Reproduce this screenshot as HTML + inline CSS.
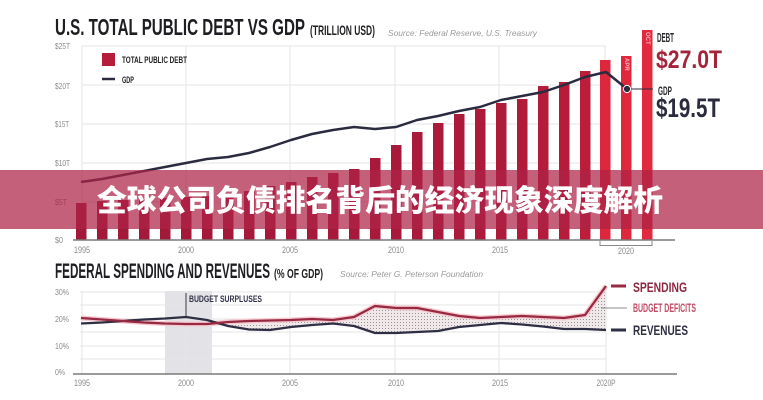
<!DOCTYPE html>
<html><head><meta charset="utf-8"><style>
html,body{margin:0;padding:0;background:#fff;}
svg{display:block;}
.c{font-family:"Liberation Sans Narrow","Liberation Sans",sans-serif;font-weight:bold;}
.t{font-family:"Liberation Sans Narrow","Liberation Sans",sans-serif;fill:#8a8a8a;}
.s{font-family:"Liberation Sans",sans-serif;font-style:italic;fill:#9a9a9a;}
</style></head><body>
<svg width="763" height="400" viewBox="0 0 763 400" xmlns="http://www.w3.org/2000/svg">
<defs>
<pattern id="dots" width="3" height="3" patternUnits="userSpaceOnUse">
<rect width="3" height="3" fill="#efe9ea"/>
<rect x="1" y="1" width="1" height="1" fill="#9a9095"/>
</pattern>
</defs>
<rect width="763" height="400" fill="#fff"/>

<!-- TOP TITLE -->
<text class="c" x="55" y="35" font-size="23.5" fill="#1e1e22" textLength="250" lengthAdjust="spacingAndGlyphs">U.S. TOTAL PUBLIC DEBT VS GDP</text>
<text class="c" x="310" y="35" font-size="13.5" fill="#1e1e22" textLength="65" lengthAdjust="spacingAndGlyphs">(TRILLION USD)</text>
<text class="s" x="388" y="36" font-size="8.5" textLength="149" lengthAdjust="spacingAndGlyphs">Source: Federal Reserve, U.S. Treasury</text>

<!-- top grid -->
<g stroke="#e6e6e6" stroke-width="1">
<line x1="82" y1="46" x2="606" y2="46"/>
<line x1="82" y1="85" x2="606" y2="85"/>
<line x1="82" y1="124" x2="606" y2="124"/>
<line x1="82" y1="163" x2="606" y2="163"/>
<line x1="82" y1="202" x2="606" y2="202"/>
<line x1="82" y1="46" x2="82" y2="240"/>
<line x1="186" y1="46" x2="186" y2="240"/>
<line x1="290" y1="46" x2="290" y2="240"/>
<line x1="395" y1="46" x2="395" y2="240"/>
<line x1="499" y1="46" x2="499" y2="240"/>
<line x1="605" y1="46" x2="605" y2="240"/>
</g>
<g class="t" font-size="8.5">
<text x="55" y="49" textLength="15" lengthAdjust="spacingAndGlyphs">$25T</text>
<text x="55" y="89" textLength="15" lengthAdjust="spacingAndGlyphs">$20T</text>
<text x="55" y="127" textLength="14" lengthAdjust="spacingAndGlyphs">$15T</text>
<text x="55" y="166" textLength="15" lengthAdjust="spacingAndGlyphs">$10T</text>
<text x="55" y="205" textLength="12" lengthAdjust="spacingAndGlyphs">$5T</text>
<text x="55" y="243" textLength="8" lengthAdjust="spacingAndGlyphs">$0</text>
</g>

<!-- legend -->
<rect x="102" y="53" width="13" height="13" fill="#b51d3b"/>
<text class="c" x="122" y="63" font-size="9.5" fill="#222" textLength="65" lengthAdjust="spacingAndGlyphs">TOTAL PUBLIC DEBT</text>
<line x1="102" y1="79" x2="115" y2="79" stroke="#2b2b40" stroke-width="2.5"/>
<text class="c" x="122" y="83" font-size="9.5" fill="#222" textLength="12" lengthAdjust="spacingAndGlyphs">GDP</text>

<!-- bars -->
<g>
<rect x="76" y="203" width="10.5" height="37" fill="#a3193a"/>
<rect x="97" y="201" width="10.5" height="39" fill="#a3193a"/>
<rect x="118" y="200" width="10.5" height="40" fill="#a3193a"/>
<rect x="139" y="199" width="10.5" height="41" fill="#a3193a"/>
<rect x="160" y="198" width="10.5" height="42" fill="#a3193a"/>
<rect x="181" y="197" width="10.5" height="43" fill="#a4193a"/>
<rect x="202" y="196" width="10.5" height="44" fill="#a4193a"/>
<rect x="223" y="194" width="10.5" height="46" fill="#a4193a"/>
<rect x="244" y="191" width="10.5" height="49" fill="#a5193a"/>
<rect x="265" y="186" width="10.5" height="54" fill="#a5193a"/>
<rect x="286" y="182" width="10.5" height="58" fill="#a6193a"/>
<rect x="307" y="177" width="10.5" height="63" fill="#a6193a"/>
<rect x="328" y="173" width="10.5" height="67" fill="#a7193a"/>
<rect x="349" y="169" width="10.5" height="71" fill="#a7193a"/>
<rect x="370" y="158" width="10.5" height="82" fill="#a8193a"/>
<rect x="391" y="145" width="10.5" height="95" fill="#a9193a"/>
<rect x="412" y="132" width="10.5" height="108" fill="#aa1a3a"/>
<rect x="433" y="123" width="10.5" height="117" fill="#ab1a3a"/>
<rect x="454" y="114" width="10.5" height="126" fill="#ac1a3a"/>
<rect x="475" y="109" width="10.5" height="131" fill="#ad1a3a"/>
<rect x="496" y="103" width="10.5" height="137" fill="#ae1b3a"/>
<rect x="517" y="99" width="10.5" height="141" fill="#b01b3a"/>
<rect x="538" y="86" width="10.5" height="154" fill="#b31c3a"/>
<rect x="559" y="82" width="10.5" height="158" fill="#b61c3a"/>
<rect x="580" y="71" width="10.5" height="169" fill="#bb1d3a"/>
<rect x="600" y="60" width="10.5" height="180" fill="#de263c"/>
<rect x="621" y="56" width="10.5" height="184" fill="#e0283d"/>
<rect x="642" y="30" width="10.5" height="210" fill="#e2293d"/>
</g>
<text x="0" y="0" font-family="Liberation Sans Narrow,Liberation Sans,sans-serif" font-weight="bold" font-size="6" fill="#f6b4bc" transform="translate(625,58) rotate(90)">APR</text>
<text x="0" y="0" font-family="Liberation Sans Narrow,Liberation Sans,sans-serif" font-weight="bold" font-size="6" fill="#f6b4bc" transform="translate(646,32) rotate(90)">OCT</text>

<!-- GDP line -->
<polyline fill="none" stroke="#2b2b40" stroke-width="2.5" stroke-linejoin="round" points="81,182 102,179 123,175 144,171 165,167 186,163 207,159 228,157 249,153 270,147 291,140 312,134 333,130 354,127 375,129 396,127 417,120 438,116 459,111 480,107 501,100 522,96 543,92 564,85 585,77 606,72 627,89"/>
<line x1="627" y1="89" x2="653" y2="89" stroke="#2b2b40" stroke-width="1"/>
<circle cx="627" cy="89" r="3.6" fill="#2b2b40" stroke="#fff" stroke-width="1"/>

<!-- x axis top -->
<line x1="73" y1="240" x2="675" y2="240" stroke="#7a7a7a" stroke-width="1.5"/>
<path d="M600,241 V245.5 H652 V241" fill="none" stroke="#888" stroke-width="1"/>
<g class="t" font-size="9" text-anchor="middle">
<text x="82" y="253" textLength="16" lengthAdjust="spacingAndGlyphs">1995</text>
<text x="186" y="253" textLength="16" lengthAdjust="spacingAndGlyphs">2000</text>
<text x="290" y="253" textLength="16" lengthAdjust="spacingAndGlyphs">2005</text>
<text x="396" y="253" textLength="16" lengthAdjust="spacingAndGlyphs">2010</text>
<text x="500" y="253" textLength="16" lengthAdjust="spacingAndGlyphs">2015</text>
<text x="626" y="254" textLength="16" lengthAdjust="spacingAndGlyphs">2020</text>
</g>

<!-- right annotations top -->
<text class="c" x="657" y="42" font-size="13" fill="#2a2a2e" textLength="17" lengthAdjust="spacingAndGlyphs">DEBT</text>
<text class="c" x="656" y="68" font-size="25" fill="#a3233b" textLength="66" lengthAdjust="spacingAndGlyphs">$27.0T</text>
<text class="c" x="658" y="95" font-size="12" fill="#2a2a2e" textLength="14" lengthAdjust="spacingAndGlyphs">GDP</text>
<text class="c" x="656" y="117" font-size="27" fill="#2b2b40" textLength="64" lengthAdjust="spacingAndGlyphs">$19.5T</text>

<!-- BOTTOM CHART -->
<text class="c" x="55" y="278" font-size="21" fill="#1e1e22" textLength="215" lengthAdjust="spacingAndGlyphs">FEDERAL SPENDING AND REVENUES</text>
<text class="c" x="274" y="278" font-size="13" fill="#1e1e22" textLength="49" lengthAdjust="spacingAndGlyphs">(% OF GDP)</text>
<text class="s" x="340" y="277" font-size="8.5" textLength="143" lengthAdjust="spacingAndGlyphs">Source: Peter G. Peterson Foundation</text>

<rect x="165" y="291" width="47" height="83" fill="#e3e3e7"/>
<g stroke="#e6e6e6" stroke-width="1">
<line x1="80" y1="292" x2="606" y2="292"/>
<line x1="80" y1="305" x2="606" y2="305"/>
<line x1="80" y1="319" x2="606" y2="319"/>
<line x1="80" y1="332" x2="606" y2="332"/>
<line x1="80" y1="346" x2="606" y2="346"/>
<line x1="80" y1="359" x2="606" y2="359"/>
<line x1="82" y1="291" x2="82" y2="374"/>
<line x1="186" y1="291" x2="186" y2="374"/>
<line x1="290" y1="291" x2="290" y2="374"/>
<line x1="395" y1="291" x2="395" y2="374"/>
<line x1="499" y1="291" x2="499" y2="374"/>
<line x1="606" y1="291" x2="606" y2="374"/>
</g>
<g class="t" font-size="8.5">
<text x="55" y="295" textLength="14" lengthAdjust="spacingAndGlyphs">30%</text>
<text x="55" y="322" textLength="14" lengthAdjust="spacingAndGlyphs">20%</text>
<text x="55" y="349" textLength="14" lengthAdjust="spacingAndGlyphs">10%</text>
<text x="55" y="375" textLength="10" lengthAdjust="spacingAndGlyphs">0%</text>
</g>

<line x1="186" y1="293" x2="186" y2="318" stroke="#3a3a4a" stroke-width="1"/>
<text class="c" x="189" y="302" font-size="9.5" fill="#33334a" textLength="73" lengthAdjust="spacingAndGlyphs">BUDGET SURPLUSES</text>

<!-- deficit area -->
<polygon fill="url(#dots)" points="212,323 228,322 249,321 270,320.5 291,320 312,319 333,320 354,317 375,306 396,308 417,308 438,312 459,316 480,318 501,317 522,316 543,317 564,318 585,315 606,286 606,330 585,329 564,329 543,326.5 522,324.5 501,323 480,325 459,327 438,331 417,332 396,333 375,333 354,326 333,323.5 312,325 291,327 270,330 249,329.5 228,326"/>

<!-- spending glow + line -->
<polyline fill="none" stroke="#f5c9d0" stroke-width="5" stroke-linejoin="round" points="81,318 102,319.5 123,321 144,322.5 165,323.5 186,324 207,324 228,322 249,321 270,320.5 291,320 312,319 333,320 354,317 375,306 396,308 417,308 438,312 459,316 480,318 501,317 522,316 543,317 564,318 585,315 606,286"/>
<polyline fill="none" stroke="#2e2e44" stroke-width="2.3" stroke-linejoin="round" points="81,323.5 102,322.5 123,321 144,319.5 165,318.5 186,317 207,320 228,326 249,329.5 270,330 291,327 312,325 333,323.5 354,326 375,333 396,333 417,332 438,331 459,327 480,325 501,323 522,324.5 543,326.5 564,329 585,329 606,330"/>
<polyline fill="none" stroke="#972a42" stroke-width="2.3" stroke-linejoin="round" points="81,318 102,319.5 123,321 144,322.5 165,323.5 186,324 207,324 228,322 249,321 270,320.5 291,320 312,319 333,320 354,317 375,306 396,308 417,308 438,312 459,316 480,318 501,317 522,316 543,317 564,318 585,315 606,286"/>

<line x1="73" y1="374" x2="677" y2="374" stroke="#7a7a7a" stroke-width="1.5"/>
<g class="t" font-size="9" text-anchor="middle">
<text x="82" y="386" textLength="16" lengthAdjust="spacingAndGlyphs">1995</text>
<text x="186" y="386" textLength="16" lengthAdjust="spacingAndGlyphs">2000</text>
<text x="290" y="386" textLength="16" lengthAdjust="spacingAndGlyphs">2005</text>
<text x="396" y="386" textLength="16" lengthAdjust="spacingAndGlyphs">2010</text>
<text x="500" y="386" textLength="16" lengthAdjust="spacingAndGlyphs">2015</text>
<text x="606" y="386" textLength="19" lengthAdjust="spacingAndGlyphs">2020P</text>
</g>

<!-- bottom legend -->
<line x1="611" y1="286" x2="626" y2="286" stroke="#972a42" stroke-width="3"/>
<text class="c" x="633" y="292" font-size="14" fill="#8e2840" textLength="54" lengthAdjust="spacingAndGlyphs">SPENDING</text>
<line x1="601" y1="308" x2="627" y2="308" stroke="#666" stroke-width="0.8"/>
<text class="c" x="633" y="312" font-size="12" fill="#bf4a63" textLength="63" lengthAdjust="spacingAndGlyphs">BUDGET DEFICITS</text>
<line x1="611" y1="330" x2="626" y2="330" stroke="#2e2e44" stroke-width="3"/>
<text class="c" x="633" y="335" font-size="14" fill="#2e2e44" textLength="55" lengthAdjust="spacingAndGlyphs">REVENUES</text>

<!-- BANNER -->
<rect x="0" y="170" width="763" height="59" fill="rgb(173,34,70)" fill-opacity="0.72"/>
<text x="97" y="211" font-family="'Noto Sans CJK SC','WenQuanYi Zen Hei',sans-serif" font-weight="900" font-size="30" fill="#fff" textLength="566" lengthAdjust="spacingAndGlyphs">全球公司负债排名背后的经济现象深度解析</text>
</svg>
</body></html>
